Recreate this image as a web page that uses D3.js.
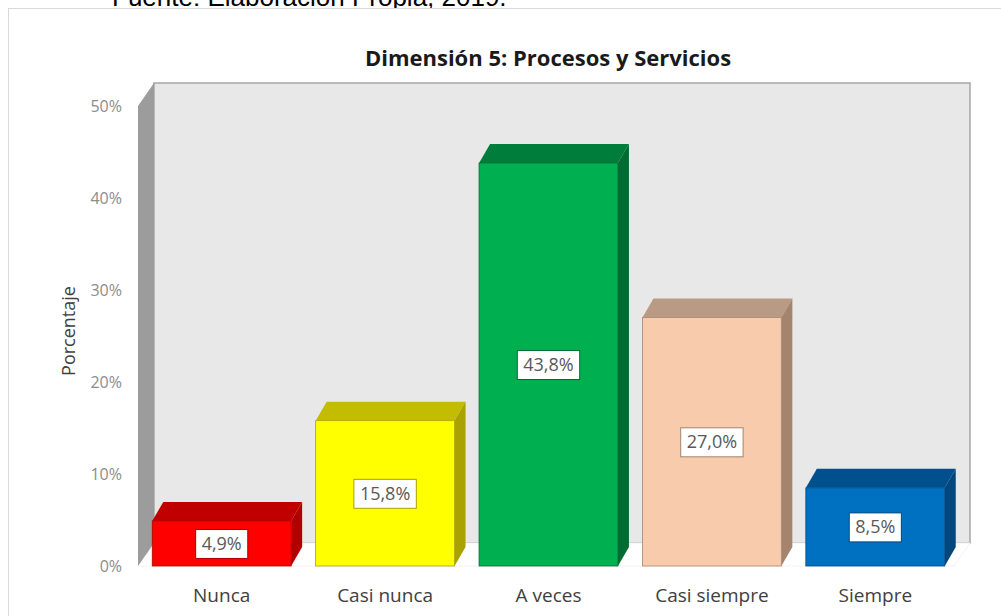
<!DOCTYPE html>
<html>
<head>
<meta charset="utf-8">
<script src="https://cdn.jsdelivr.net/npm/d3@7"></script>
<style>
  body { margin: 0; background: #fff; }
  svg { display: block; font-family: "Open Sans", "Noto Sans", sans-serif; }
</style>
</head>
<body>
<div id="chart"></div>
<script>
// data
const categories = ['Nunca', 'Casi nunca', 'A veces', 'Casi siempre', 'Siempre'];
const values = [4.9, 15.8, 43.8, 27.0, 8.5];
const valueLabels = ['4,9%', '15,8%', '43,8%', '27,0%', '8,5%'];
const yTicks = [0, 10, 20, 30, 40, 50];

// face colours: front, top, side
const frontColors = ['#ff0000', '#ffff00', '#00b050', '#f8cbad', '#0070c0'];
const topColors = ['#c00000', '#c4bc00', '#007d3a', '#b99a84', '#00508e'];
const sideColors = ['#b00000', '#aaa200', '#006b32', '#a5846e', '#00477d'];

const width = 1001, height = 616;

const svg = d3.select('#chart').append('svg')
    .attr('width', width)
    .attr('height', height);

// caption cut at the top of the image
svg.append('text')
    .attr('x', 112)
    .attr('y', 6)
    .style('font-family', '"Liberation Sans", Arial, sans-serif')
    .style('font-size', '26px')
    .attr('fill', '#000')
    .text('Fuente: Elaboración Propia, 2019.');

// chart frame
svg.append('rect')
    .attr('x', 8.5).attr('y', 8.5)
    .attr('width', 1010).attr('height', 640)
    .attr('fill', '#fff')
    .attr('stroke', '#d9d9d9');

/* scales */
const x = d3.scaleBand()
    .domain(categories)
    .range([140, 957]);
const y = d3.scaleLinear()
    .domain([0, 50])
    .range([566, 106]);

const wallDx = 16, wallDy = -23;   // depth of walls
const barDx = 11, barDy = -19;     // depth of bars
const barW = x.bandwidth() * 0.85;

const plotLeft = 138, plotRight = 954;

// back wall
svg.append('rect')
    .attr('x', plotLeft + wallDx)
    .attr('y', y(50) + wallDy)
    .attr('width', plotRight - plotLeft)
    .attr('height', y(0) - y(50))
    .attr('fill', '#e8e8e8')
    .attr('stroke', '#a6a6a6')
    .attr('stroke-width', 1.5);

// floor
svg.append('polygon')
    .attr('points', [
      [plotLeft, y(0)], [plotLeft + wallDx, y(0) + wallDy],
      [plotRight + wallDx, y(0) + wallDy], [plotRight, y(0)]
    ].join(' '))
    .attr('fill', '#fff')
    .attr('stroke', '#f2f2f2');

// side wall
svg.append('polygon')
    .attr('points', [
      [plotLeft, y(0)], [plotLeft, y(50)],
      [plotLeft + wallDx, y(50) + wallDy], [plotLeft + wallDx, y(0) + wallDy]
    ].join(' '))
    .attr('fill', '#9c9c9c');

// title
svg.append('text')
    .attr('x', 548)
    .attr('y', 66)
    .attr('text-anchor', 'middle')
    .style('font-size', '22px')
    .style('font-weight', 'bold')
    .attr('fill', '#1a1a1a')
    .text('Dimensión 5: Procesos y Servicios');

// y axis
const yAxis = svg.append('g')
    .attr('transform', `translate(124,0)`)
    .call(d3.axisLeft(y).tickValues(yTicks).tickFormat(d => d + '%').tickSize(0).tickPadding(2));
yAxis.select('.domain').remove();
yAxis.selectAll('text')
    .style('font-family', '"Open Sans", sans-serif')
    .style('font-size', '16px')
    .attr('fill', '#8c8c8c');

svg.append('text')
    .attr('transform', 'translate(75,331) rotate(-90)')
    .attr('text-anchor', 'middle')
    .style('font-size', '18px')
    .attr('fill', '#404040')
    .text('Porcentaje');

// x axis labels
const xAxis = svg.append('g')
    .attr('transform', `translate(0,585)`)
    .call(d3.axisBottom(x).tickSize(0).tickPadding(3));
xAxis.select('.domain').remove();
xAxis.selectAll('text')
    .style('font-family', '"Open Sans", sans-serif')
    .style('font-size', '19px')
    .attr('fill', '#404040');

/* bars */
const data = categories.map((c, i) => ({ cat: c, value: values[i], label: valueLabels[i], i }));

const bars = svg.selectAll('.bar')
    .data(data)
    .join('g')
    .attr('class', 'bar');

bars.each(function(d) {
  const g = d3.select(this);
  const x0 = x(d.cat) + (x.bandwidth() - barW) / 2;
  const x1 = x0 + barW;
  const yTop = y(d.value), yBot = y(0);

  // top face
  g.append('polygon')
      .attr('points', [[x0, yTop], [x0 + barDx, yTop + barDy], [x1 + barDx, yTop + barDy], [x1, yTop]].join(' '))
      .attr('fill', topColors[d.i]);
  // side face
  g.append('polygon')
      .attr('points', [[x1, yTop], [x1 + barDx, yTop + barDy], [x1 + barDx, yBot + barDy], [x1, yBot]].join(' '))
      .attr('fill', sideColors[d.i]);
  // front face
  g.append('rect')
      .attr('x', x0).attr('y', yTop)
      .attr('width', barW).attr('height', yBot - yTop)
      .attr('fill', frontColors[d.i])
      .attr('stroke', sideColors[d.i])
      .attr('stroke-width', 0.8);

  // value label
  const cx = (x0 + x1) / 2, cy = (yTop + yBot) / 2;
  const lbl = g.append('g');
  const box = lbl.append('rect');
  const t = lbl.append('text')
      .attr('x', cx).attr('y', cy)
      .attr('text-anchor', 'middle')
      .attr('dy', '0.35em')
      .style('font-size', '18px')
      .attr('fill', '#595959')
      .text(d.label);
  const bb = t.node().getBBox();
  box.attr('x', bb.x - 6).attr('y', cy - 14)
      .attr('width', bb.width + 12).attr('height', 29)
      .attr('fill', '#fff')
      .attr('stroke', sideColors[d.i])
      .attr('stroke-width', 1);
});
</script>
</body>
</html>
